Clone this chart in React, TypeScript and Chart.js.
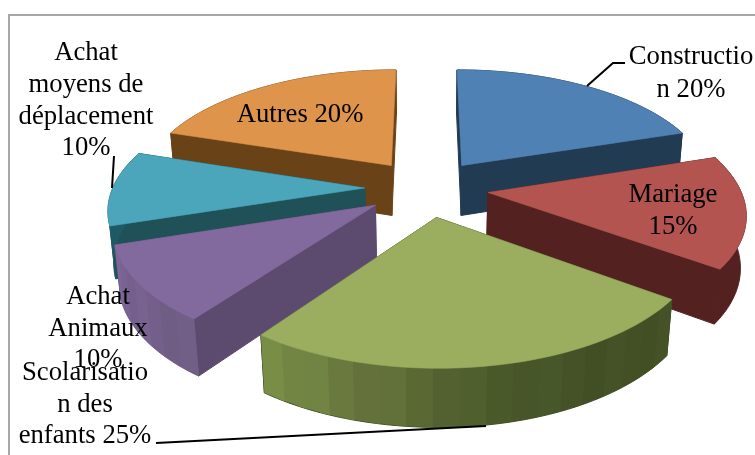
import React, { useEffect, useRef } from "react";
import { Chart } from "chart.js/auto";

const categories = ["Construction", "Mariage", "Scolarisation des enfants", "Achat Animaux", "Achat moyens de déplacement", "Autres"];
const shares = [20, 15, 25, 10, 10, 20];
const topColors = ["#5081B5", "#B35450", "#9BAD5F", "#836A9E", "#4BA6BC", "#DE944B"];
const cutColors = ["#213B53", "#522120", "#435026", "#5C4A6F", "#205058", "#6A4218"];
const rimStops = [
  ["#213B53", "#213B53"],
  ["#522120", "#522120"],
  ["#435026", "#435026", "#4A5A2A", "#66733C", "#7A9148"],
  ["#6E5C82", "#7C6596"],
  ["#1E5A66", "#1E5A66"],
  ["#6A4218", "#6A4218"],
];

const labelFont = '26.7px "Liberation Serif"';
const labelBlocks = [
  { cx: 691, lines: [["Constructio", 64], ["n 20%", 97]] },
  { cx: 673, lines: [["Mariage", 202], ["15%", 234]] },
  { cx: 85, lines: [["Scolarisatio", 380], ["n des", 412], ["enfants 25%", 443]] },
  { cx: 98, lines: [["Achat", 304], ["Animaux", 336], ["10%", 367]] },
  { cx: 86, lines: [["Achat", 60], ["moyens de", 92], ["déplacement", 124], ["10%", 155]] },
  { cx: 300, lines: [["Autres 20%", 122]] },
];
const leaders = [
  [[587, 86], [613, 63], [625, 63]],
  [[156, 443], [486, 426]],
  [[114, 156], [112, 188]],
];

// camera: flat disc coordinates (u, v, depth) -> canvas
const CX = 426.5, CY = 188, RX = 252, RY = 117, K = 0.156, H = 52, M = 0.018, EXPLODE = 0.245;
const project = (u: number, v: number, z: number) => {
  const w = 1 + K * v + M * z;
  return [CX + (RX * u) / w, CY - (RY * v) / w + (H * z) / w];
};

const hexRgb = (h: string) => [1, 3, 5].map((i) => parseInt(h.slice(i, i + 2), 16));
const rampColor = (stops: string[], t: number, tweak: number) => {
  const p = Math.min(Math.max(t, 0), 1) * (stops.length - 1);
  const i = Math.min(Math.floor(p), stops.length - 2);
  const a = hexRgb(stops[i]), b = hexRgb(stops[i + 1]);
  const c = a.map((x, n) => Math.min(255, Math.round((x + (b[n] - x) * (p - i)) * tweak)));
  return `rgb(${c[0]},${c[1]},${c[2]})`;
};

const polygon = (ctx: CanvasRenderingContext2D, pts: number[][], color: string, strokeWidth = 0.6) => {
  ctx.beginPath();
  pts.forEach((p, i) => (i ? ctx.lineTo(p[0], p[1]) : ctx.moveTo(p[0], p[1])));
  ctx.closePath();
  ctx.fillStyle = color;
  ctx.fill();
  if (strokeWidth > 0) {
    ctx.strokeStyle = color;
    ctx.lineWidth = strokeWidth;
    ctx.stroke();
  }
};

const pie3d = {
  id: "pie3d",
  beforeDatasetDraw() {
    return false;
  },
  afterDatasetsDraw(chart: any) {
    const ctx: CanvasRenderingContext2D = chart.ctx;
    const arcs = chart.getDatasetMeta(0).data.map((el: any, i: number) => {
      const a0 = el.startAngle + Math.PI / 2;
      const a1 = el.endAngle + Math.PI / 2;
      const mid = (a0 + a1) / 2;
      return { i, a0, a1, ou: EXPLODE * Math.sin(mid), ov: EXPLODE * Math.cos(mid) };
    });
    arcs.sort((p: any, q: any) => q.ov - p.ov);

    for (const s of arcs) {
      const edge = (a: number, z: number) => project(s.ou + Math.sin(a), s.ov + Math.cos(a), z);
      const apex = (z: number) => project(s.ou, s.ov, z);
      const stops = rimStops[s.i];
      const span = s.a1 - s.a0;
      // cut faces
      polygon(ctx, [apex(0), edge(s.a0, 0), edge(s.a0, 1), apex(1)], cutColors[s.i], 1);
      polygon(ctx, [apex(0), edge(s.a1, 0), edge(s.a1, 1), apex(1)], cutColors[s.i], 1);
      // rim: one sheet, then faint bands where it is shaded
      const sheetTop: number[][] = [];
      const sheetBottom: number[][] = [];
      for (let n = 0; n <= 60; n++) {
        sheetTop.push(edge(s.a0 + (span * n) / 60, 0));
        sheetBottom.unshift(edge(s.a0 + (span * n) / 60, 1));
      }
      polygon(ctx, [...sheetTop, ...sheetBottom], stops[0], 1);
      if (stops[0] !== stops[stops.length - 1]) {
        const strips = Math.max(4, Math.round(span / (Math.PI / 36)));
        for (let n = 0; n < strips; n++) {
          const b0 = s.a0 + (span * n) / strips;
          const b1 = s.a0 + (span * (n + (n === strips - 1 ? 1 : 1.4))) / strips;
          const tweak = n % 3 === 0 ? 1.025 : n % 3 === 1 ? 0.985 : 1;
          polygon(
            ctx,
            [edge(b0, 0), edge(b1, 0), edge(b1, 1), edge(b0, 1)],
            rampColor(stops, (n + 0.5) / strips, tweak),
            0
          );
        }
      }
      // top face
      const top = [apex(0)];
      for (let n = 0; n <= 60; n++) top.push(edge(s.a0 + (span * n) / 60, 0));
      polygon(ctx, top, topColors[s.i]);
    }

    // frame
    ctx.strokeStyle = "#A6A6A6";
    ctx.lineWidth = 2;
    ctx.beginPath();
    ctx.moveTo(9, 470);
    ctx.lineTo(9, 15);
    ctx.lineTo(770, 15);
    ctx.stroke();

    // leader lines
    ctx.strokeStyle = "#000000";
    ctx.lineWidth = 2;
    for (const l of leaders) {
      ctx.beginPath();
      l.forEach((p, i) => (i ? ctx.lineTo(p[0], p[1]) : ctx.moveTo(p[0], p[1])));
      ctx.stroke();
    }

    // labels
    ctx.fillStyle = "#000000";
    ctx.font = labelFont;
    ctx.textAlign = "center";
    ctx.textBaseline = "alphabetic";
    for (const b of labelBlocks) {
      for (const [text, y] of b.lines) ctx.fillText(text as string, b.cx, y as number);
    }
  },
};

export default function App() {
  const ref = useRef<HTMLCanvasElement>(null);
  useEffect(() => {
    document.body.style.margin = "0";
    const chart = new Chart(ref.current as HTMLCanvasElement, {
      type: "pie",
      data: {
        labels: categories,
        datasets: [{ data: shares, backgroundColor: topColors, borderWidth: 0 }],
      },
      options: {
        responsive: false,
        animation: false,
        devicePixelRatio: 1,
        plugins: { legend: { display: false }, tooltip: { enabled: false }, title: { display: false } },
      },
      plugins: [pie3d],
    } as any);
    return () => chart.destroy();
  }, []);
  return <canvas ref={ref} width={755} height={455} style={{ display: "block", background: "#fff" }} />;
}
